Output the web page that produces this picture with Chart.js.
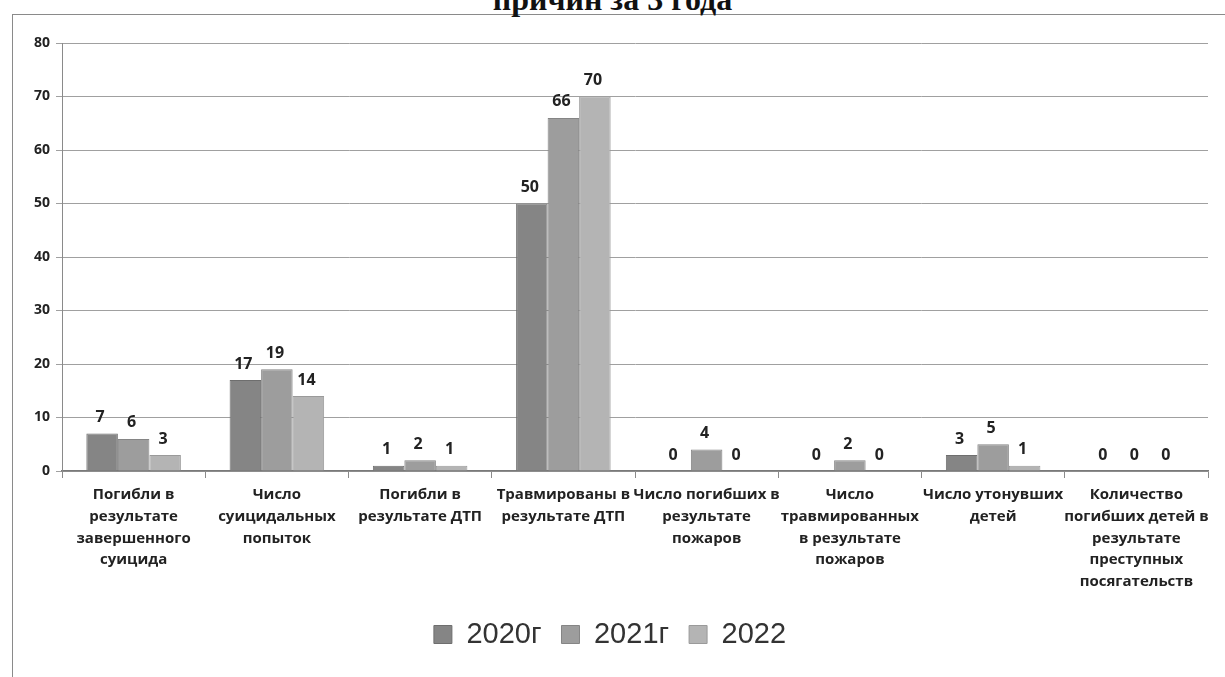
<!DOCTYPE html>
<html>
	<head>
		<meta charset="utf-8" />
		<script src="https://cdn.jsdelivr.net/npm/chart.js@4.4.0/dist/chart.umd.min.js"></script>
		<style>
			body {
				margin: 0;
				width: 1225px;
				height: 677px;
				overflow: hidden;
				background: #fff;
				position: relative;
			}
			/* scanned frame round the chart */
			.frame {
				position: absolute;
				left: 12px;
				top: 14px;
				width: 1213px;
				height: 663px;
				border-left: 1px solid #8a8a8a;
				border-top: 1px solid #8a8a8a;
			}
			.title {
				position: absolute;
				top: -19px;
				left: 0;
				width: 1225px;
				text-align: center;
				font: bold 32px "Liberation Serif", "DejaVu Serif", serif;
				color: #111;
			}
			#wrap {
				position: absolute;
				left: 0;
				top: 0;
				width: 1225px;
				height: 677px;
			}
		</style>
		<title>Chart</title>
	</head>
	<body>
		<div class="frame"></div>
		<div class="title">причин за 3 года</div>
		<div id="wrap"><canvas id="myChart"></canvas></div>

		<script>
			// Categories (multi-line labels as in the original)
			const categories = [
				["Погибли в", "результате", "завершенного", "суицида"],
				["Число", "суицидальных", "попыток"],
				["Погибли в", "результате ДТП"],
				["Травмированы в", "результате ДТП"],
				["Число погибших в", "результате", "пожаров"],
				["Число", "травмированных", "в результате", "пожаров"],
				["Число утонувших", "детей"],
				["Количество", "погибших детей в", "результате", "преступных", "посягательств"],
			];
			const seriesNames = ["2020г", "2021г", "2022"];
			const values2020 = [7, 17, 1, 50, 0, 0, 3, 0];
			const values2021 = [6, 19, 2, 66, 4, 2, 5, 0];
			const values2022 = [3, 14, 1, 70, 0, 0, 1, 0];
			const yTicks = [0, 10, 20, 30, 40, 50, 60, 70, 80];

			const fills = ["#858585", "#9d9d9d", "#b4b4b4"];
			const edges = ["#6e6e6e", "#858585", "#9a9a9a"];

			// Value labels above each bar
			const valueLabels = {
				id: "valueLabels",
				afterDatasetsDraw(chart) {
					const ctx = chart.ctx;
					ctx.save();
					ctx.font = "bold 16px 'Open Sans', sans-serif";
					ctx.fillStyle = "#222";
					ctx.textAlign = "center";
					ctx.textBaseline = "bottom";
					chart.data.datasets.forEach((ds, i) => {
						chart.getDatasetMeta(i).data.forEach((bar, j) => {
							ctx.fillText(ds.data[j], bar.x - 2, bar.y - 8);
						});
					});
					ctx.restore();
				},
			};

			new Chart(document.getElementById("myChart").getContext("2d"), {
				type: "bar",
				data: {
					labels: categories,
					datasets: [values2020, values2021, values2022].map((d, i) => ({
						label: seriesNames[i],
						data: d,
						backgroundColor: fills[i],
						borderColor: edges[i],
						borderWidth: 1,
						categoryPercentage: 0.66,
						barPercentage: 1.0,
					})),
				},
				options: {
					responsive: true,
					maintainAspectRatio: false,
					animation: false,
					layout: {
						padding: { left: 12, right: 17, top: 43, bottom: 18 },
					},
					plugins: {
						tooltip: { enabled: false },
						legend: {
							position: "bottom",
							labels: {
								boxWidth: 18,
								boxHeight: 18,
								padding: 20,
								color: "#333",
								font: { size: 29, family: "'Liberation Sans', sans-serif" },
							},
						},
					},
					scales: {
						x: {
							grid: {
								offset: true,
								drawOnChartArea: false,
								tickLength: 7,
								color: "#8a8a8a",
							},
							border: { color: "#7a7a7a", width: 1.5 },
							ticks: {
								maxRotation: 0,
								autoSkip: false,
								color: "#222",
								padding: 6,
								font: { size: 15, weight: "bold", family: "'Open Sans', sans-serif", lineHeight: 1.45 },
							},
							afterFit(scale) {
								scale.height = 129;
							},
						},
						y: {
							min: 0,
							max: 80,
							afterBuildTicks(scale) {
								scale.ticks = yTicks.map((v) => ({ value: v }));
							},
							grid: {
								color: "#a0a0a0",
								tickLength: 6,
							},
							border: { color: "#8a8a8a" },
							ticks: {
								color: "#222",
								padding: 6,
								font: { size: 14, weight: "bold", family: "'Open Sans', sans-serif" },
							},
							afterFit(scale) {
								scale.width = 50;
							},
						},
					},
				},
				plugins: [valueLabels],
			});
		</script>
	</body>
</html>
